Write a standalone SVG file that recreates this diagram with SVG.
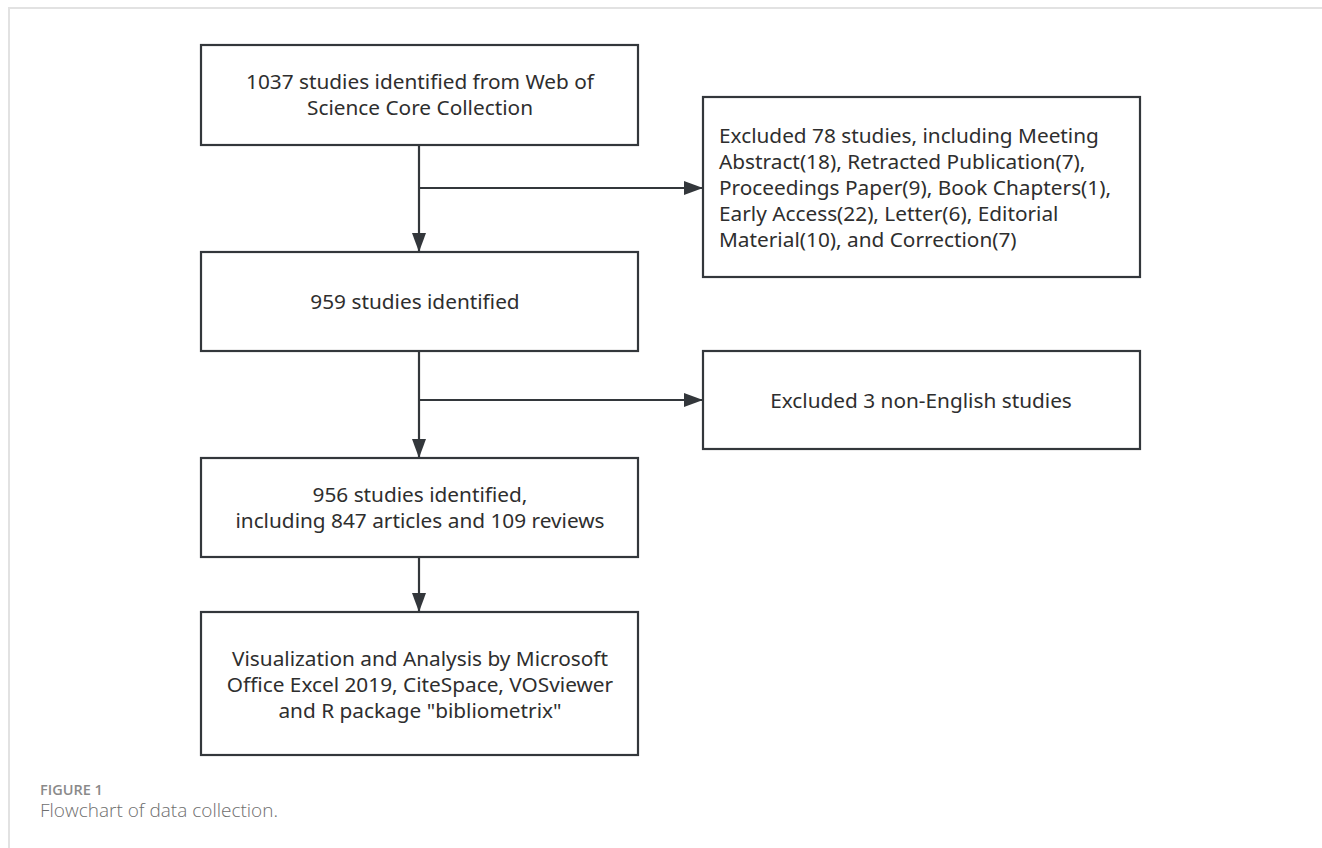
<svg xmlns="http://www.w3.org/2000/svg" width="1322" height="848" viewBox="0 0 1322 848">
  <style>
    .box { fill: #ffffff; stroke: #33373b; stroke-width: 2.2; }
    .lbl { font-family: "Noto Sans", "Open Sans", "Liberation Sans", sans-serif; font-size: 20.8px; fill: #2e2e2e; }
    .mid { text-anchor: middle; }
    .wire { fill: none; stroke: #33373b; stroke-width: 2.2; }
    .cap1 { font-family: "Open Sans", "Liberation Sans", sans-serif; font-size: 14.5px; font-weight: 600; fill: #8a8a8a; }
    .cap2 { font-family: "Open Sans", "Liberation Sans", sans-serif; font-size: 19px; font-weight: 300; fill: #6e6e6e; }
  </style>
  <defs>
    <marker id="tip" markerUnits="userSpaceOnUse" markerWidth="20" markerHeight="14" refX="19" refY="7" orient="auto">
      <path d="M0,0 L19,7 L0,14 Z" fill="#33373b"/>
    </marker>
  </defs>

  <rect width="1322" height="848" fill="#ffffff"/>
  <!-- figure frame -->
  <rect x="9" y="8" width="1340" height="900" fill="none" stroke="#e2e2e2" stroke-width="2"/>

  <g id="connectors">
    <path class="wire" d="M419,145 V252" marker-end="url(#tip)"/>
    <path class="wire" d="M419,188 H703" marker-end="url(#tip)"/>
    <path class="wire" d="M419,351 V458" marker-end="url(#tip)"/>
    <path class="wire" d="M419,400 H703" marker-end="url(#tip)"/>
    <path class="wire" d="M419,557 V612" marker-end="url(#tip)"/>
  </g>

  <g id="n-wos">
    <rect class="box" x="201" y="45" width="437" height="100"/>
    <text class="lbl mid" x="420" y="89">1037 studies identified from Web of</text>
    <text class="lbl mid" x="420" y="115">Science Core Collection</text>
  </g>

  <g id="n-excl78">
    <rect class="box" x="703" y="97" width="437" height="180"/>
    <text class="lbl" x="719" y="143">Excluded 78 studies, including Meeting</text>
    <text class="lbl" x="719" y="169">Abstract(18), Retracted Publication(7),</text>
    <text class="lbl" x="719" y="195">Proceedings Paper(9), Book Chapters(1),</text>
    <text class="lbl" x="719" y="221">Early Access(22), Letter(6), Editorial</text>
    <text class="lbl" x="719" y="247">Material(10), and Correction(7)</text>
  </g>

  <g id="n-959">
    <rect class="box" x="201" y="252" width="437" height="99"/>
    <text class="lbl mid" x="415" y="309">959 studies identified</text>
  </g>

  <g id="n-excl3">
    <rect class="box" x="703" y="351" width="437" height="98"/>
    <text class="lbl mid" x="921" y="408">Excluded 3 non-English studies</text>
  </g>

  <g id="n-956">
    <rect class="box" x="201" y="458" width="437" height="99"/>
    <text class="lbl mid" x="420" y="502">956 studies identified,</text>
    <text class="lbl mid" x="420" y="528">including 847 articles and 109 reviews</text>
  </g>

  <g id="n-vis">
    <rect class="box" x="201" y="612" width="437" height="143"/>
    <text class="lbl mid" x="420" y="666">Visualization and Analysis by Microsoft</text>
    <text class="lbl mid" x="420" y="692">Office Excel 2019, CiteSpace, VOSviewer</text>
    <text class="lbl mid" x="420" y="718">and R package "bibliometrix"</text>
  </g>

  <g id="caption">
    <text class="cap1" x="40" y="795">FIGURE 1</text>
    <text class="cap2" x="40" y="817">Flowchart of data collection.</text>
  </g>
</svg>
